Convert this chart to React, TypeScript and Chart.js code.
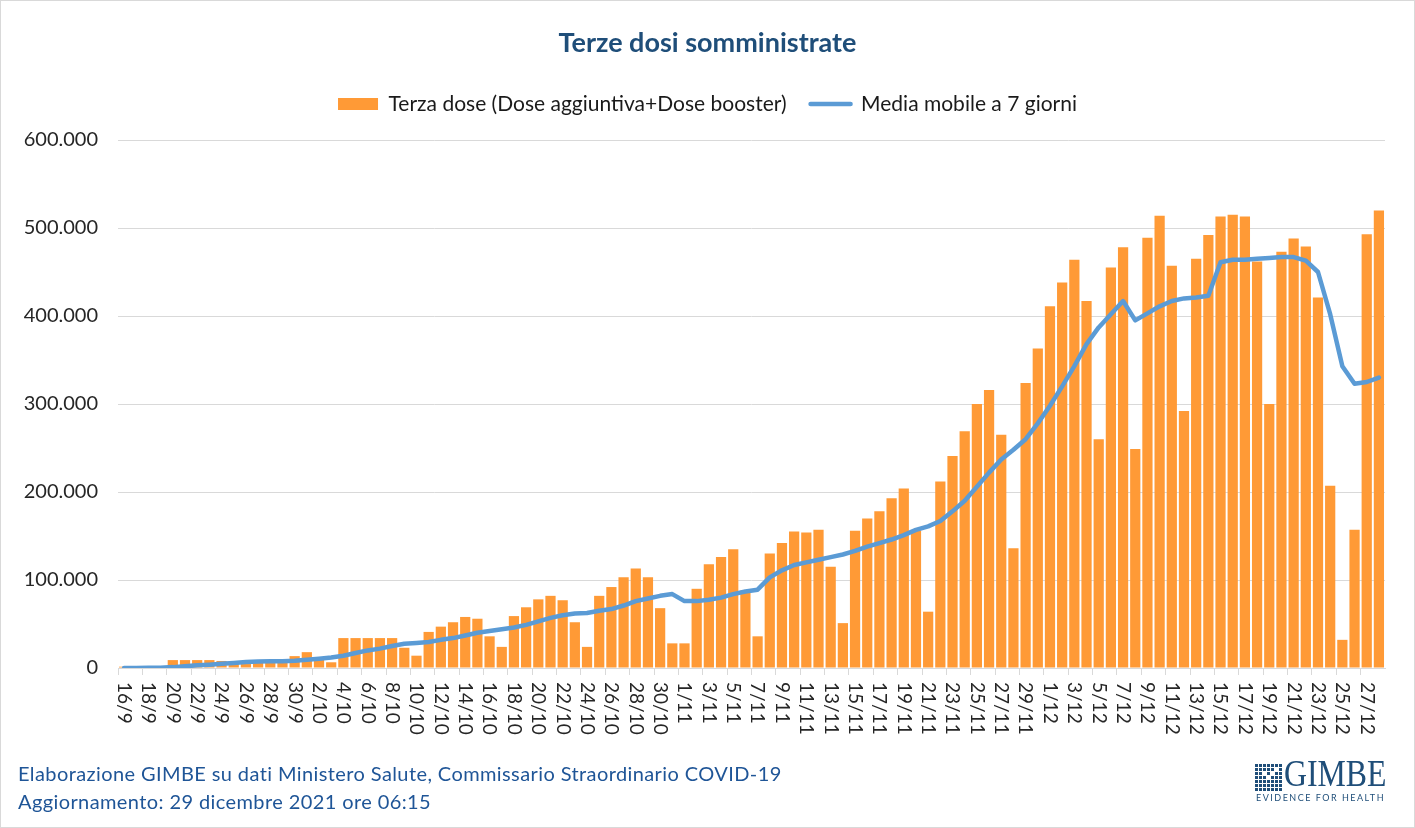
import React, { useEffect, useRef } from 'react';
import { Chart, registerables } from 'chart.js';

Chart.register(...registerables);

const labels: string[] = [
  '16/9', '17/9', '18/9', '19/9', '20/9', '21/9', '22/9', '23/9', '24/9', '25/9', '26/9', '27/9', '28/9', '29/9', '30/9',
  '1/10', '2/10', '3/10', '4/10', '5/10', '6/10', '7/10', '8/10', '9/10', '10/10', '11/10', '12/10', '13/10', '14/10', '15/10',
  '16/10', '17/10', '18/10', '19/10', '20/10', '21/10', '22/10', '23/10', '24/10', '25/10', '26/10', '27/10', '28/10', '29/10', '30/10', '31/10',
  '1/11', '2/11', '3/11', '4/11', '5/11', '6/11', '7/11', '8/11', '9/11', '10/11', '11/11', '12/11', '13/11', '14/11', '15/11',
  '16/11', '17/11', '18/11', '19/11', '20/11', '21/11', '22/11', '23/11', '24/11', '25/11', '26/11', '27/11', '28/11', '29/11', '30/11',
  '1/12', '2/12', '3/12', '4/12', '5/12', '6/12', '7/12', '8/12', '9/12', '10/12', '11/12', '12/12', '13/12', '14/12', '15/12',
  '16/12', '17/12', '18/12', '19/12', '20/12', '21/12', '22/12', '23/12', '24/12', '25/12', '26/12', '27/12', '28/12',
];

const terzaDose: number[] = [
  // settembre 16-30
  1500, 300, 200, 600, 9000, 9000, 9000, 9000, 8000, 7000, 4500, 9000, 9000, 9000, 13500,
  // ottobre
  18000, 11000, 6500, 34000, 34000, 34000, 34000, 34000, 23000, 14000, 41000, 47000, 52000, 58000, 56000,
  36000, 24000, 59000, 69000, 78000, 82000, 77000, 52000, 24000, 82000, 92000, 103000, 113000, 103000, 68000, 28000,
  // novembre
  28000, 90000, 118000, 126000, 135000, 88000, 36000, 130000, 142000, 155000, 154000, 157000, 115000, 51000, 156000,
  170000, 178000, 193000, 204000, 156000, 64000, 212000, 241000, 269000, 300000, 316000, 265000, 136000, 324000, 363000,
  // dicembre
  411000, 438000, 464000, 417000, 260000, 455000, 478000, 249000, 489000, 514000, 457000, 292000, 465000, 492000, 513000,
  515000, 513000, 462000, 300000, 473000, 488000, 479000, 421000, 207000, 32000, 157000, 493000, 520000,
];

const mediaMobile: number[] = [
  // settembre 16-30
  0, 100, 200, 400, 1000, 2000, 3000, 3800, 4800, 5800, 6800, 7300, 7600, 7800, 8200,
  // ottobre
  9500, 10600, 12000, 14000, 17000, 20000, 22000, 25000, 27500, 28500, 29500, 32000, 34000, 37000, 40000,
  42000, 44000, 46000, 49000, 53000, 57000, 60000, 62000, 62500, 65000, 67000, 71000, 76000, 79000, 82000, 84000,
  // novembre
  76000, 76000, 77500, 80000, 84000, 87000, 89000, 103000, 111000, 117000, 120000, 123000, 126000, 129000, 133000,
  138000, 142000, 146000, 151000, 157000, 161000, 167000, 178000, 190000, 206000, 222000, 237000, 248000, 260000, 278000,
  // dicembre
  298000, 320000, 343000, 368000, 387000, 402000, 417000, 395000, 403000, 411000, 417000, 420000, 421000, 423000, 461000,
  464000, 464000, 465000, 466000, 467000, 467000, 463000, 450000, 402000, 343000, 323000, 325000, 330000,
];

const seriesNames: string[] = ['Terza dose (Dose aggiuntiva+Dose booster)', 'Media mobile a 7 giorni'];
const chartTitle = 'Terze dosi somministrate';
const footerLines: string[] = [
  'Elaborazione GIMBE su dati Ministero Salute, Commissario Straordinario COVID-19',
  'Aggiornamento: 29 dicembre 2021 ore 06:15',
];

const BAR_COLOR = '#FF9A36';
const LINE_COLOR = '#5B9BD5';
const GRID_COLOR = '#D9D9D9';
const TEXT_COLOR = '#262626';
const TITLE_COLOR = '#1F4E79';

function fmtThousands(v: number): string {
  return String(Math.round(v)).replace(/\B(?=(\d{3})+(?!\d))/g, '.');
}

const downLabelsPlugin = {
  id: 'downLabels',
  afterDraw(chart: any) {
    const scale = chart.scales.x;
    const ctx = chart.ctx;
    ctx.save();
    ctx.font = '19px Lato, "Liberation Sans", sans-serif';
    ctx.fillStyle = TEXT_COLOR;
    ctx.textAlign = 'left';
    ctx.textBaseline = 'middle';
    labels.forEach((l, i) => {
      if (i % 2 !== 0) return;
      const x = scale.getPixelForValue(i);
      ctx.save();
      ctx.translate(x, scale.top + 14);
      ctx.rotate(Math.PI / 2);
      ctx.fillText(l, 0, 0);
      ctx.restore();
    });
    ctx.restore();
  },
};

function GimbeLogo() {
  const cells: React.ReactNode[] = [];
  for (let r = 0; r < 7; r++) {
    for (let c = 0; c < 7; c++) {
      const check = (r === 2 && c === 2) || (r === 3 && c === 3) || (r === 2 && c === 4) || (r === 1 && c === 5);
      cells.push(
        <div key={r + '-' + c} style={{ width: 3, height: 3, background: check ? '#fff' : TITLE_COLOR }} />
      );
    }
  }
  return (
    <div style={{ position: 'absolute', left: 1254, top: 761, width: 140, height: 45 }}>
      <div
        style={{
          position: 'absolute', left: 0, top: 2, display: 'grid',
          gridTemplateColumns: 'repeat(7, 3px)', gridAutoRows: '3px', gap: 1,
        }}
      >
        {cells}
      </div>
      <div
        style={{
          position: 'absolute', left: 29, top: -8, fontFamily: '"Liberation Serif", "DejaVu Serif", serif',
          fontSize: 37, lineHeight: '40px', color: TITLE_COLOR, transform: 'scaleX(0.86)',
          transformOrigin: 'left top', whiteSpace: 'nowrap',
        }}
      >
        GIMBE
      </div>
      <div
        style={{
          position: 'absolute', left: 1, top: 31, fontFamily: 'Lato, "Liberation Sans", sans-serif',
          fontSize: 9, lineHeight: '10px', color: TITLE_COLOR, letterSpacing: 1.5, whiteSpace: 'nowrap',
        }}
      >
        EVIDENCE FOR HEALTH
      </div>
    </div>
  );
}

export default function App() {
  const canvasRef = useRef<HTMLCanvasElement | null>(null);

  useEffect(() => {
    if (!canvasRef.current) return;
    Chart.defaults.font.family = 'Lato, "Liberation Sans", sans-serif';
    const chart = new Chart(canvasRef.current, {
      type: 'bar',
      data: {
        labels,
        datasets: [
          {
            type: 'bar',
            label: seriesNames[0],
            data: terzaDose,
            backgroundColor: BAR_COLOR,
            borderWidth: 0,
            barPercentage: 0.84,
            categoryPercentage: 1,
            order: 1,
          } as any,
          {
            type: 'line',
            label: seriesNames[1],
            data: mediaMobile,
            borderColor: LINE_COLOR,
            backgroundColor: LINE_COLOR,
            borderWidth: 4.5,
            pointRadius: 0,
            pointHoverRadius: 0,
            tension: 0,
            borderJoinStyle: 'round',
            borderCapStyle: 'round',
            order: 0,
          } as any,
        ],
      },
      options: {
        responsive: false,
        animation: false,
        layout: { padding: { left: 0, right: 0, top: 0, bottom: 100 } },
        plugins: {
          title: {
            display: true,
            text: chartTitle,
            color: TITLE_COLOR,
            font: { size: 27, weight: 'bold' },
            padding: { top: 26.8, bottom: 10.3 },
          },
          legend: {
            display: true,
            position: 'top',
            labels: {
              usePointStyle: true,
              pointStyleWidth: 40,
              boxHeight: 12,
              padding: 24,
              color: '#1a1a1a',
              font: { size: 21 },
              sort: (a: any, b: any) => a.datasetIndex - b.datasetIndex,
              generateLabels: (ch: any) => {
                const items = (Chart.defaults.plugins.legend.labels as any).generateLabels(ch);
                items.forEach((it: any) => {
                  if (it.datasetIndex === 0) {
                    it.pointStyle = 'rect';
                    it.lineWidth = 0;
                    it.fillStyle = BAR_COLOR;
                  } else {
                    it.pointStyle = 'line';
                    it.lineWidth = 4.5;
                    it.strokeStyle = LINE_COLOR;
                    it.lineCap = 'round';
                  }
                });
                return items;
              },
            },
          },
          subtitle: {
            display: true,
            text: '',
            font: { size: 10 },
            padding: { top: 3.5, bottom: 0 },
            weight: 500,
          } as any,
          tooltip: { enabled: false },
        },
        scales: {
          x: {
            offset: true,
            grid: {
              offset: true,
              drawOnChartArea: false,
              drawTicks: true,
              tickLength: 7,
              color: (c: any) => (c.index % 2 === 0 ? GRID_COLOR : 'rgba(0,0,0,0)'),
            },
            border: { display: true, color: GRID_COLOR, width: 1 },
            ticks: { display: false, autoSkip: false },
            afterFit: (s: any) => { s.height = 60; },
          },
          y: {
            min: 0,
            max: 600000,
            grid: { color: GRID_COLOR, drawTicks: false, lineWidth: 1 },
            border: { display: false },
            ticks: {
              stepSize: 100000,
              padding: 20,
              color: TEXT_COLOR,
              font: { size: 20 },
              callback: (v: any) => fmtThousands(Number(v)),
            },
            afterFit: (s: any) => { s.width = 118; },
          },
          yRight: {
            position: 'right',
            display: true,
            grid: { display: false, drawTicks: false },
            border: { display: false },
            ticks: { display: false },
            afterFit: (s: any) => { s.width = 30; },
          },
        },
      },
      plugins: [downLabelsPlugin],
    });
    return () => chart.destroy();
  }, []);

  return (
    <div
      style={{
        position: 'absolute', left: 0, top: 0, width: 1415, height: 828, boxSizing: 'border-box',
        border: '1px solid #D9D9D9', background: '#fff', overflow: 'hidden',
      }}
    >
      <canvas ref={canvasRef} width={1415} height={828} style={{ position: 'absolute', left: -1, top: -1 }} />
      <div
        style={{
          position: 'absolute', left: 17, top: 758, fontFamily: 'Lato, "Liberation Sans", sans-serif',
          fontSize: 20, lineHeight: '28px', color: '#1F5597', whiteSpace: 'nowrap', letterSpacing: 0.4,
        }}
      >
        <div>{footerLines[0]}</div>
        <div>{footerLines[1]}</div>
      </div>
      <GimbeLogo />
    </div>
  );
}
